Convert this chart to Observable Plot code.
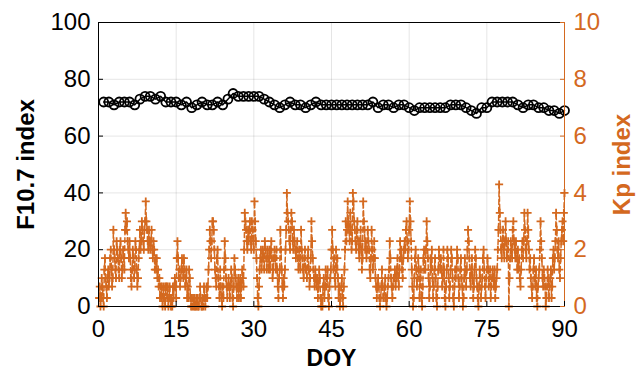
<!DOCTYPE html>
<html><head><meta charset="utf-8">
<script src="https://cdn.jsdelivr.net/npm/d3@7"></script>
<script src="https://cdn.jsdelivr.net/npm/@observablehq/plot@0.6"></script>
<style>body{margin:0;background:#fff}</style>
</head><body><div id="chart"></div>
<script>
const xTicks = [0, 15, 30, 45, 60, 75, 90];
const f107Ticks = [0, 20, 40, 60, 80, 100];
const kpTickLabels = ["0", "2", "4", "6", "8", "10"];

// daily F10.7 index, DOY 1..90
const f107 = [
  72,72,71,72,72,72,71,73,74,74,
  73,74,72,72,72,71,72,70,71,72,
  71,71,72,71,73,75,74,74,74,74,
  74,73,72,71,70,71,72,71,71,70,
  71,72,71,71,71,71,71,71,71,71,
  71,71,72,70,71,71,70,71,71,70,
  69,70,70,70,70,70,70,71,71,71,
  70,69,68,70,70,72,72,72,72,72,
  71,70,71,71,70,70,69,69,68,69
];

// 3-hourly Kp index, 8 values per day
const kp = [
  0.3,0.7,0,0.3,1,0.7,0.3,0,
  1.3,1.7,1,0.7,0.3,1,1.3,0.7,
  1,1.7,2,1.3,0.7,1,2.7,2,
  1.7,1.3,1,2.3,2,1.7,1.3,1,
  2,2.3,1.7,1,1.3,2,1.7,1.3,
  2.7,3.3,2.7,3,2.3,2,1.7,2.3,
  1.7,1,0.7,1.3,2,1.7,1,1.3,
  2.3,2,1.3,0.7,1,1.7,2,2.7,
  2,2.3,3,2.7,2.3,2,2.7,3,
  3.7,3,2.7,2.3,2,2.7,2.3,2,
  2.3,2.7,2,1.7,2.3,2,1.3,1.7,
  1.3,1.7,1,1.3,0.7,1,0.3,0.7,
  0.3,0.7,0,0.3,0.7,0.3,0,0.7,
  0.7,0.3,0.7,0,0.3,0.7,0.3,0,
  0.3,0,0.7,0.3,0.7,1,0.7,0.3,
  1.7,2.3,1.7,1,1.3,0.7,1,1.3,
  1.7,1.3,1,1.7,1.3,0.7,1,1.3,
  0.3,0.7,0.3,1.3,1,0.3,0,0.3,
  0,0.3,0,0.3,0,0,0.3,0,
  0.3,0,0,0.3,0.7,0.3,0,0,
  0.3,0,0.7,0.3,0,0.3,0.7,0.3,
  0.7,1.3,2,2.7,2.3,1.7,2.3,3,
  3,2.7,2,1.3,1,0.7,1.7,2,
  1,0.7,0.3,1.3,0.7,0.3,0,0.7,
  0.3,1.3,2.3,1.7,1,0.7,0.3,0.7,
  1,0.7,0.3,0.7,1.3,1,0.3,0,
  0.7,1.7,1.3,1,0.7,0.3,0.7,1,
  0.3,0.7,1,0.3,0.7,1.3,1,0.7,
  2,3.3,3,2.7,2.3,2,2.7,2.3,
  2.7,3,2.3,2,3,2.7,2.3,2,
  3.7,3,2.3,1.7,1,0.3,0,0.7,
  1.3,1.7,2,1.3,1.7,2,1.7,1.3,
  2.3,2,1.7,1.3,2,1.7,1.3,2,
  1.3,2,2.3,1.7,1,1.3,1.7,2,
  1.7,1.3,2,1.3,0.7,0.3,1,1.3,
  2.7,2,1.3,0.7,0.3,1,0.7,1.3,
  2,2.7,4,3.3,3,2.7,2.3,2,
  2.7,3.3,3,2.3,2,2.7,2.3,2,
  1.7,2,2.3,1.7,1.3,2,1.7,1.3,
  2.7,2,1.7,1.3,1,1.7,2,1.3,
  1.3,1,1.7,2,1.3,0.7,1,1.7,
  3,2.3,1.7,1.3,1,0.7,1.3,1,
  0.7,1,0.3,0.7,1.3,1,0.3,0,
  0.3,0,0.7,1,0.3,0.7,1.3,0.7,
  1,1.3,0.3,0,0.7,1,1.3,2,
  2.7,2,1.3,1.7,1,0.7,2,1.3,
  1.7,1,0.3,0.7,0,0.3,0.7,1,
  0.3,0,0.7,1.3,2,3,2.3,2.7,
  3.7,3,2.7,2.3,3.3,2.7,2,2.3,
  4,3.7,3,2.7,2.3,2,2.7,3,
  2.3,2,1.7,2.3,2.7,2,1.3,1.7,
  3.7,3,2.7,2,2.3,1.7,2,2.7,
  2.3,2,1.3,1,1.7,2.7,2,1.3,
  1.7,2.3,1.7,1,0.7,0.3,0.7,1,
  0.7,0.3,0,0.3,0.7,1.3,0.7,0.3,
  0.3,0.7,1,0.3,0,0.3,0.7,1,
  1.3,2.3,1.7,1,0.7,0.3,0.7,1,
  1,1.3,0.7,1,1.3,1.7,1,0.7,
  1.3,2.3,1.7,2,1.3,1,1.7,2,
  2.3,2,2.7,3,2.3,1.7,2,2.7,
  3.7,3,2.3,1.3,0.7,0,0.3,1,
  1.7,2,1.3,0.7,1,1.7,1.3,0.3,
  1,1.3,0.3,0,0.7,1.7,2,1.3,
  1.3,2,3,2.3,1.7,1,0.3,0.7,
  1.7,1.3,2,1,0.3,0.7,1.3,1.7,
  1,0.3,0,0.7,1.3,2,1.7,1.3,
  1.7,1.3,0.7,1,2,1.3,0.3,0,
  0.7,1.3,2,1.7,1,0.3,0.7,1.3,
  2,1.7,1,0.3,0,0.7,1.3,1,
  1.3,2,1.7,1,0.3,0.7,1.3,1.7,
  1,0.7,0,0.3,1,1.7,1.3,0.7,
  1.3,2,2.7,2.3,1.7,1,0.7,1.3,
  1.7,1,0.3,0.7,1.3,2,1.7,1,
  0.7,0.3,0,0.7,1.3,1,0.3,0.7,
  1,1.7,2,1.3,0.7,0.3,1,1.3,
  1.7,1.3,0.7,1,1.3,0.3,0.7,1,
  1.3,1,0.7,1.3,0.3,0.7,1,1.3,
  2,2.7,4.3,3.3,2.7,2,1.7,2.3,
  2.7,2,1.7,2.3,3,2.3,1.7,2,
  2.3,0,1,1.7,2.3,2,1.7,2.7,
  3,2.3,2,1.7,2.3,1.7,1.3,2,
  1.3,1.7,1,0.7,1.3,2,2.3,1.7,
  2.3,3.3,2.7,2,1.7,2.3,3.3,2.7,
  2,1.3,1.7,1,0.7,0.3,0.7,1.3,
  1.7,1,0.7,1.3,0.3,0,0.7,1,
  1.3,2,3,2.3,1.7,1,0.7,1.3,
  1,0.7,0,0.3,0.7,1.3,1,0.3,
  0.7,1,1.3,0.3,0.7,1.7,2,1.3,
  1.7,2.3,3.3,2.7,2,1.7,2.3,1.3,
  1,1.7,2.3,2.7,3,2.3,3.3,4
];

const f107Data = f107.map((v, i) => ({doy: i + 1, v}));
const kpData = kp.map((v, i) => ({doy: (i + 1) / 8, v}));
const orange = "#D4691F";
const font = "'Liberation Sans', Arial, sans-serif";

const chart = Plot.plot({
  width: 642, height: 372,
  marginLeft: 98, marginRight: 78, marginTop: 22, marginBottom: 66,
  style: {fontFamily: font, fontSize: "24px", background: "#fff", color: "#000"},
  x: {domain: [0, 90]},
  y: {domain: [0, 100]},
  marks: [
    Plot.gridX(xTicks, {stroke: "#000", strokeOpacity: 0.1}),
    Plot.gridY(f107Ticks, {stroke: "#000", strokeOpacity: 0.1}),
    Plot.line(f107Data, {x: "doy", y: "v", stroke: "#000", strokeWidth: 1.5}),
    Plot.dot(f107Data, {x: "doy", y: "v", r: 4.5, stroke: "#000", strokeWidth: 1.8, fill: "none"}),
    Plot.line(kpData, {x: "doy", y: d => d.v * 10, stroke: orange, strokeWidth: 1.5, strokeDasharray: "5,3"}),
    Plot.dot(kpData, {x: "doy", y: d => d.v * 10, symbol: "plus", r: 2.7, stroke: orange, strokeWidth: 1.8}),
    Plot.ruleY([0, 100], {stroke: "#000", strokeWidth: 1}),
    Plot.ruleX([0], {stroke: "#000", strokeWidth: 1}),
    Plot.ruleX([90], {stroke: orange, strokeWidth: 1}),
    Plot.axisX({ticks: xTicks, anchor: "bottom", tickSize: -5, tickPadding: 18, fontSize: 24, label: null, stroke: "#000"}),
    Plot.axisY({ticks: f107Ticks, anchor: "left", tickSize: -5, tickPadding: 13, fontSize: 24, label: null, stroke: "#000"}),
    Plot.axisY({ticks: f107Ticks, anchor: "right", tickSize: -5, tickPadding: 14, fontSize: 24, label: null,
      stroke: orange, fill: orange, tickFormat: (d, i) => kpTickLabels[i]}),
    Plot.text(["F10.7 index"], {frameAnchor: "left", textAnchor: "middle", dx: -72, rotate: -90, fontSize: 24, fontWeight: "bold", fill: "#000"}),
    Plot.text(["Kp index"], {frameAnchor: "right", textAnchor: "middle", dx: 58, rotate: -90, fontSize: 24, fontWeight: "bold", fill: orange}),
    Plot.text(["DOY"], {frameAnchor: "bottom", lineAnchor: "middle", dy: 52, fontSize: 23, fontWeight: "bold", fill: "#000"})
  ]
});
document.getElementById("chart").appendChild(chart);
</script>
</body></html>
